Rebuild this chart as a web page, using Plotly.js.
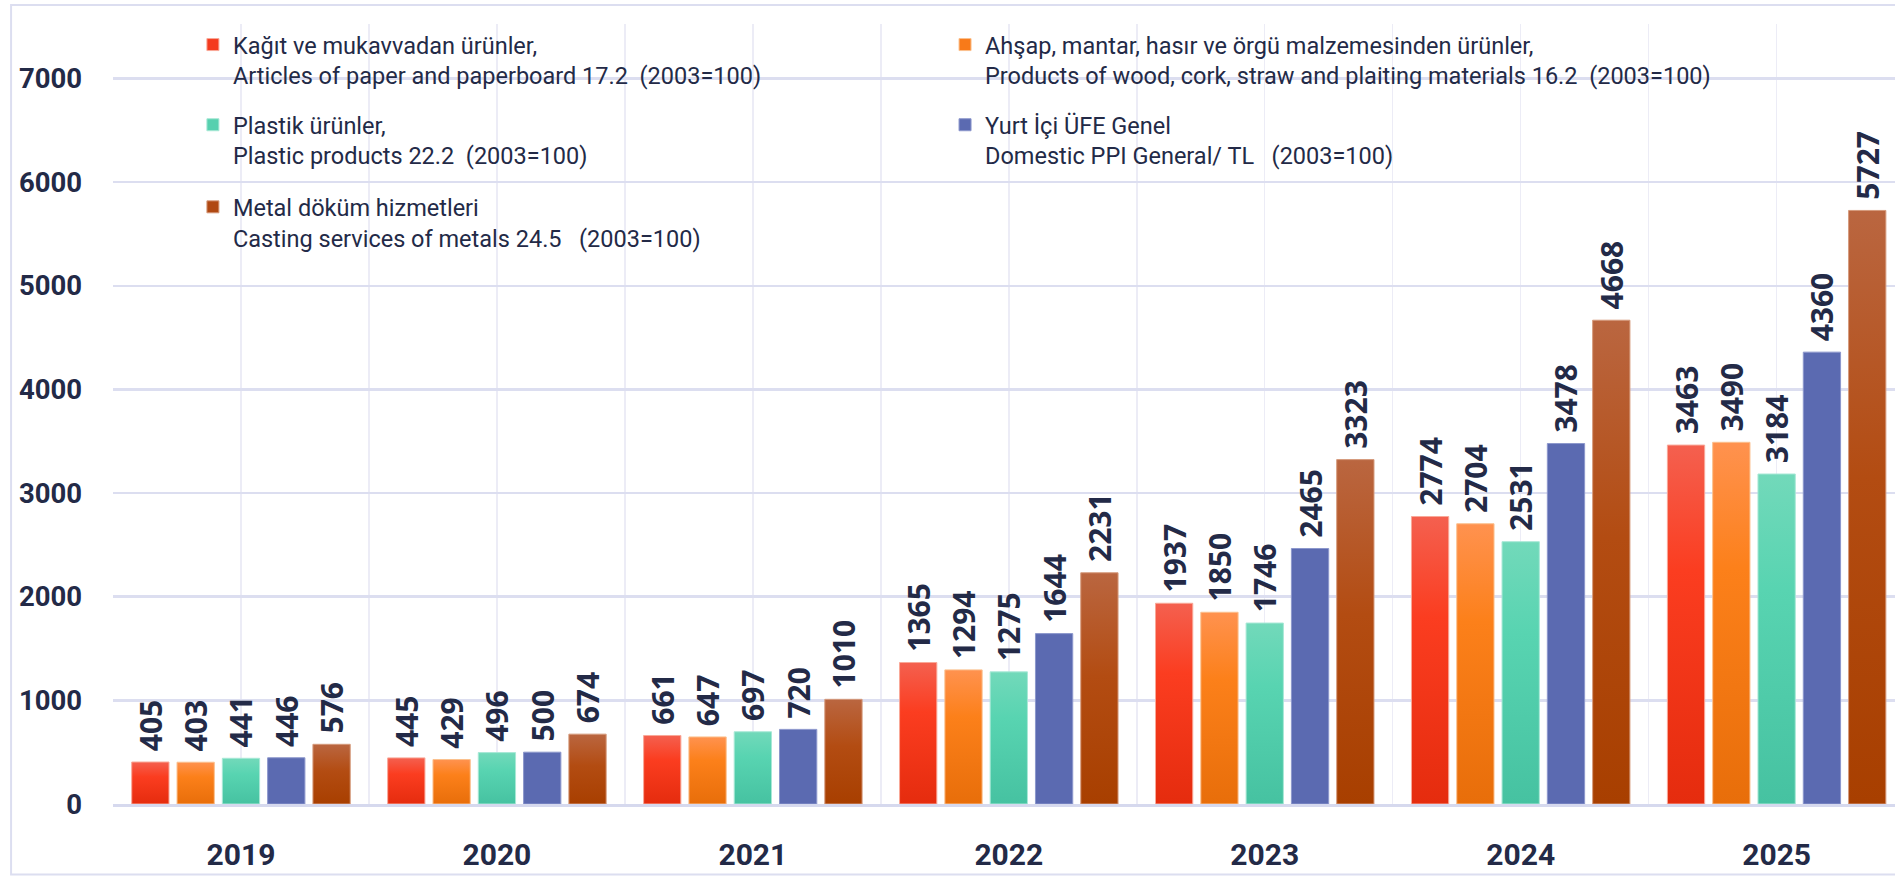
<!DOCTYPE html>
<html>
<head>
<meta charset="utf-8">
<script src="https://cdn.plot.ly/plotly-3.0.1.min.js"></script>
<style>
html,body{margin:0;padding:0;background:#fff;overflow:hidden;}
#chart{width:1895px;height:877px;}
</style>
</head>
<body>
<div id="chart"></div>
<script>
// ---- data ----
const years = ['2019', '2020', '2021', '2022', '2023', '2024', '2025'];
const kagit   = [405, 445, 661, 1365, 1937, 2774, 3463];
const ahsap   = [403, 429, 647, 1294, 1850, 2704, 3490];
const plastik = [441, 496, 697, 1275, 1746, 2531, 3184];
const ufe     = [446, 500, 720, 1644, 2465, 3478, 4360];
const metal   = [576, 674, 1010, 2231, 3323, 4668, 5727];
const seriesNames = [
  'Kağıt ve mukavvadan ürünler,<br>Articles of paper and paperboard 17.2  (2003=100)',
  'Ahşap, mantar, hasır ve örgü malzemesinden ürünler,<br>Products of wood, cork, straw and plaiting materials 16.2  (2003=100)',
  'Plastik ürünler,<br>Plastic products 22.2  (2003=100)',
  'Yurt İçi ÜFE Genel<br>Domestic PPI General/ TL   (2003=100)',
  'Metal döküm hizmetleri<br>Casting services of metals 24.5   (2003=100)'
];
const yTicks = [0, 1000, 2000, 3000, 4000, 5000, 6000, 7000];

// ---- styling ----
const baseColors = ['#F43A1E', '#F87A19', '#56D0AF', '#5B6AB1', '#B04812'];
const edgeColors = ['#F9A898', '#FBC08E', '#A8E8D6', '#8C97CC', '#D59A7C'];
const gradients = [
  [[0, '#F4604F'], [0.35, '#FB3D20'], [1, '#E52C0E']],
  [[0, '#FF924F'], [0.35, '#FC801A'], [1, '#E86E0A']],
  [[0, '#72D9BA'], [0.35, '#58D4B1'], [1, '#46C2A1']],
  [[0, '#5B6AB1'], [1, '#5B6AB1']],
  [[0, '#BA6640'], [0.45, '#B34C12'], [1, '#A83F00']]
];
const legendPos = [
  {x: 0.1018, y: 0.9740},
  {x: 0.4987, y: 0.9740},
  {x: 0.1018, y: 0.8826},
  {x: 0.4987, y: 0.8826},
  {x: 0.1018, y: 0.7890}
];
const textFont = "Roboto, 'Liberation Sans', sans-serif";
const ink = '#232a47';

const xIdx = years.map((_, i) => i);
const allSeries = [kagit, ahsap, plastik, ufe, metal];
const legendIds = ['legend', 'legend2', 'legend3', 'legend4', 'legend5'];

const traces = allSeries.map((vals, i) => ({
  type: 'bar',
  x: xIdx,
  y: vals,
  name: seriesNames[i],
  legend: legendIds[i],
  marker: {color: baseColors[i], line: {color: edgeColors[i], width: 1}},
  texttemplate: '\u00A0%{y}',
  textposition: 'outside',
  textangle: -90,
  constraintext: 'none',
  cliponaxis: false,
  outsidetextfont: {family: "'Open Sans', sans-serif", size: 30, color: ink, weight: 700},
  hoverinfo: 'skip'
}));

const layout = {
  width: 1895,
  height: 877,
  margin: {l: 113, r: 0, t: 24, b: 73, autoexpand: false},
  paper_bgcolor: '#ffffff',
  plot_bgcolor: '#ffffff',
  barmode: 'group',
  bargap: 0.115,
  bargroupgap: 0.177,
  showlegend: true,
  xaxis: {
    type: 'linear',
    range: [-0.5, 6.4625],
    tickmode: 'array',
    tickvals: xIdx,
    ticktext: years,
    ticks: '',
    ticklabelstandoff: 22,
    tickfont: {family: textFont, size: 30, color: ink, weight: 700},
    showgrid: true,
    gridcolor: '#ECECF6',
    gridwidth: 1.5,
    minor: {tickmode: 'array', tickvals: [-0.5, 0.5, 1.5, 2.5, 3.5, 4.5, 5.5, 6.5], showgrid: true, gridcolor: '#ECECF6', gridwidth: 1.5, ticks: ''},
    showline: true,
    linecolor: '#D6D9EE',
    linewidth: 3,
    zeroline: false,
    automargin: false,
    fixedrange: true
  },
  yaxis: {
    range: [0, 7526],
    tickmode: 'array',
    tickvals: yTicks,
    ticktext: yTicks.map(String),
    ticks: '',
    ticklabelstandoff: 30,
    tickfont: {family: textFont, size: 27.5, color: ink, weight: 700},
    showgrid: true,
    gridcolor: '#DCDEF0',
    gridwidth: 2.5,
    zeroline: false,
    showline: false,
    automargin: false,
    fixedrange: true
  },
  shapes: [{
    type: 'rect', xref: 'paper', yref: 'paper', layer: 'below',
    x0: -0.0572, x1: 1.2, y0: -0.0905, y1: 1.0244,
    line: {color: '#DCDEF0', width: 2}, fillcolor: 'rgba(0,0,0,0)'
  }]
};
legendIds.forEach((id, i) => {
  layout[id] = {
    xref: 'container', yref: 'container',
    x: legendPos[i].x, y: legendPos[i].y,
    xanchor: 'left', yanchor: 'top',
    bgcolor: 'rgba(0,0,0,0)', borderwidth: 0,
    valign: 'top',
    font: {family: textFont, size: 23.5, color: ink}
  };
});

const gd = document.getElementById('chart');
Plotly.newPlot(gd, traces, layout, {staticPlot: true, displayModeBar: false}).then(() => {
  const NS = 'http://www.w3.org/2000/svg';
  const svg = gd.querySelector('svg.main-svg');
  let defs = svg.querySelector('defs');
  if (!defs) { defs = document.createElementNS(NS, 'defs'); svg.insertBefore(defs, svg.firstChild); }
  gradients.forEach((stops, i) => {
    const lg = document.createElementNS(NS, 'linearGradient');
    lg.setAttribute('id', 'barGrad' + i);
    lg.setAttribute('x1', '0'); lg.setAttribute('y1', '0');
    lg.setAttribute('x2', '0'); lg.setAttribute('y2', '1');
    stops.forEach(([off, col]) => {
      const s = document.createElementNS(NS, 'stop');
      s.setAttribute('offset', off);
      s.setAttribute('stop-color', col);
      lg.appendChild(s);
    });
    defs.appendChild(lg);
  });
  gd.querySelectorAll('.barlayer .trace').forEach((tr, i) => {
    tr.querySelectorAll('.point path').forEach(p => { p.style.fill = 'url(#barGrad' + i + ')'; });
  });
});
</script>
</body>
</html>
